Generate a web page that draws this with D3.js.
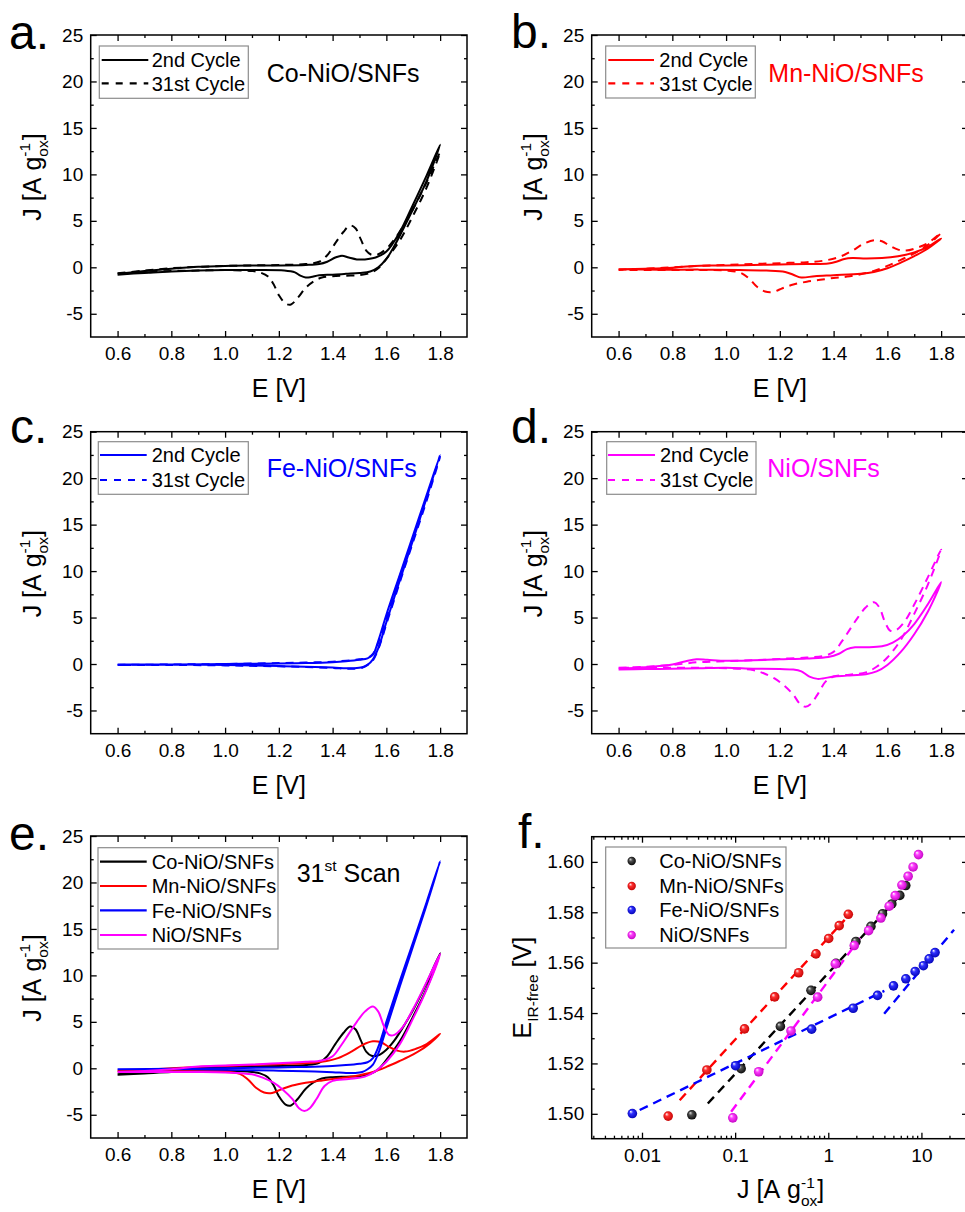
<!DOCTYPE html>
<html><head><meta charset="utf-8">
<script src="https://cdn.jsdelivr.net/npm/d3@7"></script>
<style>
body{margin:0;background:#fff}
svg{display:block}
text{font-family:"Liberation Sans",Arial,Helvetica,sans-serif}
</style>
</head><body>
<svg id="c" width="965" height="1212"></svg>
<script>
// ---------- DATA: cyclic voltammograms [E (V), J (A/g_ox)] ----------
const CO_2_F = [[0.6,-0.7],[0.7,-0.4],[0.8,-0.15],[0.9,0.05],[1.0,0.15],[1.1,0.2],[1.2,0.2],[1.3,0.25],[1.35,0.35],[1.38,0.6],[1.41,1.05],[1.435,1.25],[1.46,1.05],[1.49,0.85],[1.52,0.85],[1.56,1.05],[1.6,1.7],[1.65,3.8],[1.7,6.8],[1.75,9.9],[1.8,13.2]];
const CO_2_R = [[1.8,13.2],[1.75,9.3],[1.7,6.3],[1.65,3.4],[1.62,1.8],[1.6,0.9],[1.57,0.0],[1.54,-0.45],[1.5,-0.6],[1.45,-0.7],[1.4,-0.8],[1.35,-0.85],[1.32,-1.05],[1.3,-1.1],[1.28,-0.9],[1.26,-0.55],[1.22,-0.35],[1.1,-0.3],[1.0,-0.3],[0.9,-0.35],[0.8,-0.45],[0.7,-0.6],[0.6,-0.8]];
const CO_31_F = [[0.6,-0.65],[0.7,-0.35],[0.8,-0.1],[0.9,0.05],[1.0,0.15],[1.1,0.2],[1.2,0.25],[1.3,0.35],[1.35,0.6],[1.38,1.3],[1.41,2.6],[1.44,3.8],[1.465,4.5],[1.485,4.2],[1.505,3.0],[1.525,1.8],[1.545,1.35],[1.57,1.4],[1.6,2.0],[1.63,3.0],[1.67,4.8],[1.7,6.3],[1.75,9.2],[1.8,12.4]];
const CO_31_R = [[1.8,12.2],[1.75,8.6],[1.7,5.6],[1.65,2.9],[1.6,0.9],[1.57,-0.1],[1.54,-0.6],[1.5,-0.85],[1.45,-0.9],[1.4,-0.95],[1.36,-1.1],[1.33,-1.5],[1.3,-2.2],[1.27,-3.3],[1.245,-4.0],[1.225,-3.9],[1.2,-3.0],[1.18,-1.8],[1.16,-1.0],[1.13,-0.55],[1.1,-0.4],[1.0,-0.3],[0.9,-0.35],[0.8,-0.4],[0.7,-0.55],[0.6,-0.7]];

const MN_2_F = [[0.6,-0.2],[0.7,-0.15],[0.8,-0.05],[0.88,0.15],[0.95,0.2],[1.0,0.2],[1.1,0.25],[1.2,0.3],[1.3,0.35],[1.38,0.4],[1.41,0.6],[1.44,0.9],[1.47,1.0],[1.52,0.95],[1.58,1.0],[1.64,1.2],[1.7,1.6],[1.75,2.2],[1.8,3.1]];
const MN_2_R = [[1.8,3.0],[1.75,2.0],[1.7,1.2],[1.65,0.5],[1.6,-0.1],[1.55,-0.5],[1.5,-0.7],[1.4,-0.85],[1.33,-0.95],[1.28,-1.1],[1.25,-0.8],[1.22,-0.5],[1.15,-0.35],[1.05,-0.3],[0.9,-0.25],[0.75,-0.25],[0.6,-0.2]];
const MN_31_F = [[0.6,-0.25],[0.7,-0.15],[0.8,0.0],[0.9,0.15],[1.0,0.25],[1.1,0.35],[1.2,0.45],[1.3,0.55],[1.36,0.7],[1.42,1.1],[1.47,1.8],[1.51,2.5],[1.55,2.9],[1.58,2.8],[1.61,2.3],[1.64,1.9],[1.67,1.8],[1.71,2.1],[1.75,2.6],[1.8,3.7]];
const MN_31_R = [[1.8,3.6],[1.75,2.4],[1.7,1.5],[1.65,0.8],[1.6,0.15],[1.55,-0.4],[1.5,-0.75],[1.45,-1.0],[1.4,-1.15],[1.35,-1.35],[1.3,-1.55],[1.25,-1.85],[1.21,-2.25],[1.175,-2.65],[1.145,-2.6],[1.115,-2.1],[1.085,-1.2],[1.055,-0.6],[1.0,-0.35],[0.9,-0.3],[0.8,-0.3],[0.7,-0.3],[0.6,-0.3]];

const FE_2_F = [[0.6,-0.05],[0.8,-0.05],[1.0,0.0],[1.2,0.05],[1.3,0.1],[1.4,0.2],[1.45,0.3],[1.5,0.45],[1.53,0.6],[1.55,1.0],[1.57,2.5],[1.6,5.3],[1.65,9.6],[1.7,13.9],[1.75,18.2],[1.8,22.5]];
const FE_2_R = [[1.8,22.3],[1.75,17.9],[1.7,13.4],[1.65,9.0],[1.6,4.5],[1.57,1.7],[1.55,0.5],[1.53,-0.1],[1.51,-0.35],[1.48,-0.45],[1.45,-0.45],[1.4,-0.38],[1.3,-0.3],[1.2,-0.22],[1.1,-0.15],[1.0,-0.1],[0.8,-0.05],[0.6,-0.05]];
const FE_31_F = [[0.6,-0.1],[0.8,-0.05],[1.0,0.0],[1.2,0.1],[1.3,0.15],[1.4,0.25],[1.45,0.35],[1.5,0.5],[1.53,0.65],[1.55,1.1],[1.57,2.3],[1.6,5.0],[1.65,9.4],[1.7,13.6],[1.75,17.9],[1.8,22.3]];
const FE_31_R = [[1.8,22.1],[1.75,17.6],[1.7,13.2],[1.65,8.8],[1.6,4.3],[1.57,1.6],[1.55,0.4],[1.53,-0.1],[1.51,-0.4],[1.48,-0.5],[1.45,-0.5],[1.4,-0.42],[1.3,-0.32],[1.2,-0.25],[1.1,-0.2],[1.0,-0.15],[0.8,-0.1],[0.6,-0.1]];

const NI_2_F = [[0.6,-0.5],[0.7,-0.35],[0.8,-0.05],[0.85,0.3],[0.89,0.5],[0.93,0.45],[1.0,0.35],[1.1,0.4],[1.2,0.5],[1.3,0.6],[1.38,0.75],[1.42,1.1],[1.45,1.6],[1.48,1.8],[1.52,1.8],[1.58,1.9],[1.62,2.3],[1.66,3.1],[1.7,4.3],[1.75,6.4],[1.8,8.8]];
const NI_2_R = [[1.8,8.7],[1.75,5.6],[1.7,3.2],[1.65,1.3],[1.6,-0.1],[1.56,-0.8],[1.52,-1.1],[1.45,-1.25],[1.4,-1.35],[1.36,-1.55],[1.34,-1.6],[1.31,-1.35],[1.28,-0.8],[1.25,-0.6],[1.2,-0.55],[1.1,-0.5],[1.0,-0.4],[0.9,-0.45],[0.8,-0.5],[0.7,-0.55],[0.6,-0.6]];
const NI_31_F = [[0.6,-0.4],[0.7,-0.3],[0.8,-0.1],[0.9,0.2],[1.0,0.3],[1.1,0.4],[1.2,0.55],[1.3,0.7],[1.36,0.85],[1.4,1.3],[1.43,2.4],[1.46,3.7],[1.49,5.0],[1.52,6.1],[1.55,6.65],[1.57,6.1],[1.59,4.6],[1.61,3.6],[1.63,3.6],[1.66,4.4],[1.7,6.4],[1.75,9.3],[1.8,12.3]];
const NI_31_R = [[1.8,12.1],[1.75,8.5],[1.7,5.4],[1.65,2.6],[1.6,0.7],[1.56,-0.3],[1.52,-0.9],[1.46,-1.15],[1.4,-1.35],[1.37,-1.9],[1.34,-3.3],[1.315,-4.3],[1.295,-4.6],[1.275,-4.3],[1.25,-3.3],[1.215,-2.3],[1.18,-1.55],[1.14,-1.0],[1.1,-0.65],[1.0,-0.45],[0.9,-0.4],[0.8,-0.4],[0.7,-0.4],[0.6,-0.4]];

// ---------- DATA: Tafel (panel f) ----------
const CO_TJ = [0.0343,0.116,0.306,0.652,1.21,1.98,2.87,3.82,4.81,5.86,6.79];
const CO_TE = [1.4996,1.5179,1.5347,1.549,1.5597,1.5684,1.5744,1.5794,1.5833,1.5867,1.5906];
const MN_TJ = [0.0191,0.0497,0.126,0.266,0.481,0.738,1.01,1.31,1.64];
const MN_TE = [1.4991,1.5174,1.5337,1.5464,1.556,1.5635,1.5696,1.5747,1.5792];
const FE_TJ = [0.00788,0.101,0.662,1.85,3.38,5.01,6.8,8.56,10.5,12.1,14.0];
const FE_TE = [1.5001,1.5191,1.5336,1.5419,1.547,1.5508,1.5536,1.5565,1.5588,1.5615,1.564];
const NI_TJ = [0.0944,0.179,0.398,0.769,1.19,1.9,2.71,3.67,4.51,5.23,6.17,7.2,8.14,9.3];
const NI_TE = [1.4984,1.5167,1.5329,1.5463,1.5595,1.5668,1.5727,1.5777,1.5824,1.5866,1.5908,1.5943,1.598,1.6029];
const CO_FIT = [[0.0509,1.5041],[6.0,1.587]];
const MN_FIT = [[0.0254,1.5054],[1.5,1.577]];
const FE_FIT1 = [[0.00944,1.5015],[4.0,1.5488]];
const FE_FIT2 = [[3.98,1.5397],[22.4,1.5731]];
const NI_FIT = [[0.0906,1.5008],[2.2,1.5698]];

// ---------- TICKS / LABELS ----------
const CV_X_MAJOR = [0.6,0.8,1.0,1.2,1.4,1.6,1.8];
const CV_X_MINOR = [0.7,0.9,1.1,1.3,1.5,1.7];
const CV_Y_MAJOR = [-5,0,5,10,15,20,25];
const CV_Y_MINOR = [-2.5,2.5,7.5,12.5,17.5,22.5];
const T_X_MAJOR = [0.01,0.1,1,10];
const T_Y_MAJOR = [1.50,1.52,1.54,1.56,1.58,1.60];
const T_Y_MINOR = [1.51,1.53,1.55,1.57,1.59];
const NAMES = ["Co-NiO/SNFs","Mn-NiO/SNFs","Fe-NiO/SNFs","NiO/SNFs"];
const CYCLES = ["2nd Cycle","31st Cycle"];
const COLORS = ["#000000","#ff0000","#0000ff","#ff00ff"];

// ---------- DRAWING ----------
const svg = d3.select("#c");
const defs = svg.append("defs");
const W = 376.3, H = 302;

function styleAxis(g){
  g.attr("font-size",19).attr("font-family",'"Liberation Sans",Arial,sans-serif');
  g.select(".domain").remove();
  g.selectAll("line").attr("stroke","#000").attr("stroke-width",1.3);
  g.selectAll("text").attr("fill","#000");
}
function drawAxes(g,x,y,L,T,xMaj,xMin,yMaj,yMin,xFmt,yFmt){
  const B=T+H, R=L+W;
  const mk=(axis,vals,size,fmt,tr,pad)=>{
    const a=g.append("g").attr("transform",tr)
      .call(axis.tickValues(vals).tickSizeInner(-size).tickSizeOuter(0).tickPadding(pad).tickFormat(fmt||(()=>"")));
    styleAxis(a);
  };
  mk(d3.axisBottom(x),xMaj,6,xFmt,`translate(0,${B})`,9.5);
  mk(d3.axisBottom(x),xMin,3,null,`translate(0,${B})`,9.5);
  mk(d3.axisTop(x),xMaj,6,null,`translate(0,${T})`,3);
  mk(d3.axisTop(x),xMin,3,null,`translate(0,${T})`,3);
  mk(d3.axisLeft(y),yMaj,6,yFmt,`translate(${L},0)`,7.5);
  mk(d3.axisLeft(y),yMin,3,null,`translate(${L},0)`,7.5);
  mk(d3.axisRight(y),yMaj,6,null,`translate(${R},0)`,3);
  mk(d3.axisRight(y),yMin,3,null,`translate(${R},0)`,3);
  g.append("rect").attr("x",L).attr("y",T).attr("width",W).attr("height",H)
    .attr("fill","none").attr("stroke","#000").attr("stroke-width",1.5);
}

// rich text: parts {t, mode:'n'|'sub'|'sup', stack}
function rich(g,parts,size,center,fill){
  let x=0, sx=0, sw=0; const els=[];
  parts.forEach(p=>{
    const mode=p.mode||"n";
    const fs = mode==="n"?size:size*0.62;
    const dy = mode==="sub"?size*0.3:(mode==="sup"?-size*0.42:0);
    const px = p.stack?sx:x;
    const t=g.append("text").attr("x",px).attr("y",dy).attr("font-size",fs).attr("fill",fill||"#000").text(p.t);
    const w=t.node().getComputedTextLength();
    if(p.stack){ x=sx+Math.max(sw,w); } else { sx=x; sw=w; x+=w; }
    els.push(t);
  });
  if(center) els.forEach(t=>t.attr("x",+t.attr("x")-x/2));
}
const J_LABEL=[{t:"J\u00A0[A\u00A0g"},{t:"ox",mode:"sub"},{t:"-1",mode:"sup",stack:true},{t:"]"}];

function yTitle(parts,bx,cy){
  const g=svg.append("g").attr("transform",`translate(${bx},${cy}) rotate(-90)`);
  rich(g,parts,25,true);
}
function xTitle(parts,cx,by){
  const g=svg.append("g").attr("transform",`translate(${cx},${by})`);
  rich(g,parts,25,true);
}
function letter(t,x,y){
  svg.append("text").attr("x",x).attr("y",y).attr("font-size",48).attr("fill","#000").text(t);
}

const cvPanels = [
  {L:90.7,T:35,letter:"a.",lx:9,ly:49,
   series:[{d:[CO_2_F,CO_2_R],c:COLORS[0],dash:null,label:CYCLES[0]},{d:[CO_31_F,CO_31_R],c:COLORS[0],dash:"8,6",label:CYCLES[1]}],
   leg:{x:99.3,y:46,w:149,h:52.3,x1:101.7,x2:148.3,tx:151.7,rows:[60,83.3]},
   ann:[{t:NAMES[0]}],annX:266.7,annY:82,annC:COLORS[0]},
  {L:591.7,T:35,letter:"b.",lx:511,ly:48,
   series:[{d:[MN_2_F,MN_2_R],c:COLORS[1],dash:null,label:CYCLES[0]},{d:[MN_31_F,MN_31_R],c:COLORS[1],dash:"8,6",label:CYCLES[1]}],
   leg:{x:605.7,y:46,w:149.6,h:52,x1:608.3,x2:654,tx:659.3,rows:[60,83.3]},
   ann:[{t:NAMES[1]}],annX:768.3,annY:82,annC:COLORS[1]},
  {L:90.7,T:431.7,letter:"c.",lx:10,ly:443,
   series:[{d:[FE_2_F,FE_2_R],c:COLORS[2],dash:null,label:CYCLES[0]},{d:[FE_31_F,FE_31_R],c:COLORS[2],dash:"8,6",label:CYCLES[1]}],
   leg:{x:98.3,y:441.7,w:150,h:52.6,x1:100,x2:146.7,tx:151.7,rows:[455,480]},
   ann:[{t:NAMES[2]}],annX:266.7,annY:476.7,annC:COLORS[2]},
  {L:591.7,T:431.7,letter:"d.",lx:511,ly:443,
   series:[{d:[NI_2_F,NI_2_R],c:COLORS[3],dash:null,label:CYCLES[0]},{d:[NI_31_F,NI_31_R],c:COLORS[3],dash:"8,6",label:CYCLES[1]}],
   leg:{x:606.7,y:441.7,w:149.3,h:52.6,x1:608,x2:655,tx:660,rows:[455,480]},
   ann:[{t:NAMES[3]}],annX:767.3,annY:476.7,annC:COLORS[3]},
  {L:90.7,T:836,letter:"e.",lx:9,ly:850,
   series:[{d:[CO_31_F,CO_31_R],c:COLORS[0],dash:null,label:NAMES[0]},{d:[MN_31_F,MN_31_R],c:COLORS[1],dash:null,label:NAMES[1]},
           {d:[FE_31_F,FE_31_R],c:COLORS[2],dash:null,label:NAMES[2]},{d:[NI_31_F,NI_31_R],c:COLORS[3],dash:null,label:NAMES[3]}],
   leg:{x:98,y:847.7,w:180,h:101.3,x1:100,x2:146.7,tx:151.7,rows:[861.7,886,910.3,935]},
   ann:[{t:"31"},{t:"st",mode:"sup"},{t:"\u00A0Scan"}],annX:296.7,annY:881.7,annC:"#000"}
];

cvPanels.forEach(p=>{
  const x=d3.scaleLinear().domain([0.5,1.9]).range([p.L,p.L+W]);
  const y=d3.scaleLinear().domain([-7.5,25]).range([p.T+H,p.T]);
  const g=svg.append("g");
  drawAxes(g,x,y,p.L,p.T,CV_X_MAJOR,CV_X_MINOR,CV_Y_MAJOR,CV_Y_MINOR,d3.format(".1f"),d=>String(d));
  const line=d3.line().x(d=>x(d[0])).y(d=>y(d[1])).curve(d3.curveCatmullRom.alpha(0.5));
  p.series.forEach(s=>{
    const loop=s.d[0].concat(s.d[1].slice(1));
    g.append("path").attr("d",line(loop)).attr("fill","none").attr("stroke",s.c)
      .attr("stroke-width",2).attr("stroke-linejoin","round")
      .attr("stroke-dasharray",s.dash);
  });
  // legend
  const lg=p.leg;
  g.append("rect").attr("x",lg.x).attr("y",lg.y).attr("width",lg.w).attr("height",lg.h)
    .attr("fill","#fff").attr("stroke","#8c8c8c").attr("stroke-width",1.2);
  p.series.forEach((s,i)=>{
    g.append("line").attr("x1",lg.x1).attr("x2",lg.x2).attr("y1",lg.rows[i]).attr("y2",lg.rows[i])
      .attr("stroke",s.c).attr("stroke-width",2.2).attr("stroke-dasharray",s.dash?"7,7":null);
    g.append("text").attr("x",lg.tx).attr("y",lg.rows[i]+7.3).attr("font-size",20).attr("fill","#000").text(s.label);
  });
  const ag=svg.append("g").attr("transform",`translate(${p.annX},${p.annY})`);
  rich(ag,p.ann,25,false,p.annC);
  yTitle(J_LABEL,p.L-50,p.T+142);
  xTitle([{t:"E\u00A0[V]"}],p.L+W/2,p.T+H+60);
  letter(p.letter,p.lx,p.ly);
});

// ---------- Panel f ----------
(function(){
  const L=591.7,T=836.7,Hf=302.3;
  const x=d3.scaleLog().domain([Math.pow(10,-2.54),Math.pow(10,1.5)]).range([L,L+W]);
  const y=d3.scaleLinear().domain([1.49,1.61]).range([T+Hf,T]);
  const minor=[];
  [0.001,0.01,0.1,1,10].forEach(dec=>{for(let k=2;k<=9;k++){const v=dec*k; if(v>x.domain()[0]&&v<x.domain()[1]) minor.push(v);}});
  const g=svg.append("g");
  drawAxes(g,x,y,L,T,T_X_MAJOR,minor,T_Y_MAJOR,T_Y_MINOR,d=>String(d),d3.format(".2f"));
  const sets=[
    {J:CO_TJ,E:CO_TE,fits:[CO_FIT],c:COLORS[0],g0:"#e0e0e0",g1:"#505050",g2:"#000000"},
    {J:MN_TJ,E:MN_TE,fits:[MN_FIT],c:COLORS[1],g0:"#ffffff",g1:"#ff3030",g2:"#c00000"},
    {J:FE_TJ,E:FE_TE,fits:[FE_FIT1,FE_FIT2],c:COLORS[2],g0:"#ffffff",g1:"#3030ff",g2:"#0000b0"},
    {J:NI_TJ,E:NI_TE,fits:[NI_FIT],c:COLORS[3],g0:"#ffffff",g1:"#ff40ff",g2:"#c000c0"}
  ];
  sets.forEach((s,i)=>{
    const gr=defs.append("radialGradient").attr("id","ball"+i).attr("cx","50%").attr("cy","50%").attr("r","55%").attr("fx","32%").attr("fy","28%");
    gr.append("stop").attr("offset","0%").attr("stop-color",s.g0);
    gr.append("stop").attr("offset","35%").attr("stop-color",s.g1);
    gr.append("stop").attr("offset","100%").attr("stop-color",s.g2);
  });
  const line=d3.line().x(d=>x(d[0])).y(d=>y(d[1]));
  sets.forEach(s=>{
    s.fits.forEach(f=>{
      g.append("path").attr("d",line(f)).attr("fill","none").attr("stroke",s.c)
        .attr("stroke-width",2.4).attr("stroke-dasharray","9,6");
    });
  });
  sets.forEach((s,i)=>{
    g.selectAll(null).data(s.J.map((j,k)=>[j,s.E[k]])).enter().append("circle")
      .attr("cx",d=>x(d[0])).attr("cy",d=>y(d[1])).attr("r",4.8).attr("fill",`url(#ball${i})`);
  });
  // legend
  const lg={x:605.7,y:847,w:180.3,h:101,mx:631.7,tx:659.3,rows:[861,886,910,935]};
  g.append("rect").attr("x",lg.x).attr("y",lg.y).attr("width",lg.w).attr("height",lg.h)
    .attr("fill","#fff").attr("stroke","#8c8c8c").attr("stroke-width",1.2);
  NAMES.forEach((n,i)=>{
    g.append("circle").attr("cx",lg.mx).attr("cy",lg.rows[i]).attr("r",4.2).attr("fill",`url(#ball${i})`);
    g.append("text").attr("x",lg.tx).attr("y",lg.rows[i]+7.3).attr("font-size",20).attr("fill","#000").text(n);
  });
  yTitle([{t:"E"},{t:"IR-free",mode:"sub"},{t:"\u00A0[V]"}],L-61,T+151);
  xTitle(J_LABEL,L+189,T+Hf+59);
  letter("f.",518,848);
})();
</script>
</body></html>
